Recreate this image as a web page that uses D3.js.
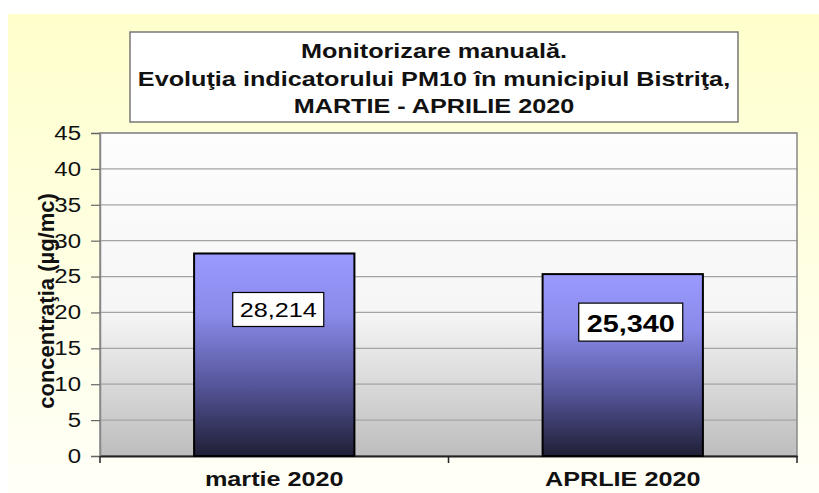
<!DOCTYPE html>
<html>
<head>
<meta charset="utf-8">
<script src="https://cdn.jsdelivr.net/npm/d3@7"></script>
<style>
  html, body { margin: 0; padding: 0; background: #ffffff; }
  svg { display: block; }
  text { font-family: "Liberation Sans", Arial, sans-serif; }
</style>
</head>
<body>
<svg id="chart" width="819" height="493"></svg>
<script>
// ---- data ----
const titleLines = ["Monitorizare manuală.", "Evoluţia indicatorului PM10 în municipiul Bistriţa,", "MARTIE - APRILIE 2020"];
const categories = ["martie 2020", "APRLIE 2020"];
const values = [28.214, 25.340];
const valueLabels = ["28,214", "25,340"];
const yTicks = [0, 5, 10, 15, 20, 25, 30, 35, 40, 45];
const yLabel = "concentraţia (µg/mc)";

// ---- styles (not data) ----
const labelStyle = [
  { bold: false, size: 21, dx: 4, dy: 39, w: 91, h: 34, base: 25 },
  { bold: true, size: 24, dx: 8, dy: 29, w: 104, h: 38, base: 29 }
];
const SX = 1.2; // horizontal stretch of the reference's text

const W = 819, H = 493;
const plot = { left: 100, right: 797, top: 133, bottom: 456 };

const svg = d3.select("#chart");
const defs = svg.append("defs");

const bgGrad = defs.append("linearGradient").attr("id", "bgGrad").attr("x1", 0).attr("y1", 0).attr("x2", 0).attr("y2", 1);
bgGrad.append("stop").attr("offset", "0").attr("stop-color", "#ffffcc");
bgGrad.append("stop").attr("offset", "1").attr("stop-color", "#fffff8");

const plotGrad = defs.append("linearGradient").attr("id", "plotGrad").attr("x1", 0).attr("y1", 0).attr("x2", 0).attr("y2", 1);
plotGrad.append("stop").attr("offset", "0").attr("stop-color", "#fdfdfd");
plotGrad.append("stop").attr("offset", "0.55").attr("stop-color", "#f6f6f6");
plotGrad.append("stop").attr("offset", "1").attr("stop-color", "#bdbdbd");

const barGrad = defs.append("linearGradient").attr("id", "barGrad").attr("x1", 0).attr("y1", 0).attr("x2", 0).attr("y2", 1);
barGrad.append("stop").attr("offset", "0").attr("stop-color", "#9a9aff");
barGrad.append("stop").attr("offset", "0.3").attr("stop-color", "#8a8aea");
barGrad.append("stop").attr("offset", "0.65").attr("stop-color", "#55559a");
barGrad.append("stop").attr("offset", "1").attr("stop-color", "#1f1f36");

// background
svg.append("rect").attr("x", 8).attr("y", 14).attr("width", W - 8).attr("height", H - 14).attr("fill", "url(#bgGrad)");

// helper to stretch text horizontally
function stretch(sel) {
  sel.each(function () {
    const len = this.getComputedTextLength();
    d3.select(this).attr("textLength", len * SX).attr("lengthAdjust", "spacingAndGlyphs");
  });
}

// scales
const y = d3.scaleLinear().domain([0, 45]).range([plot.bottom, plot.top]);
const x = d3.scaleBand().domain(categories).range([plot.left, plot.right]).paddingInner(0.54).paddingOuter(0.27);

// plot area
svg.append("rect").attr("x", plot.left).attr("y", plot.top)
  .attr("width", plot.right - plot.left).attr("height", plot.bottom - plot.top)
  .attr("fill", "url(#plotGrad)");

// gridlines
svg.append("g").selectAll("line").data(yTicks.filter(d => d > 0)).join("line")
  .attr("x1", plot.left).attr("x2", plot.right)
  .attr("y1", d => y(d)).attr("y2", d => y(d))
  .attr("stroke", "#a4a4a4").attr("stroke-width", 1.2);

// plot border
svg.append("rect").attr("x", plot.left).attr("y", plot.top)
  .attr("width", plot.right - plot.left).attr("height", plot.bottom - plot.top)
  .attr("fill", "none").attr("stroke", "#888").attr("stroke-width", 1.5);

// y axis
const yAxis = svg.append("g").attr("transform", `translate(${plot.left},0)`)
  .call(d3.axisLeft(y).tickValues(yTicks).tickSize(9).tickPadding(10).tickFormat(d3.format("d")));
yAxis.select(".domain").attr("stroke", "#888").attr("stroke-width", 1.5);
yAxis.selectAll(".tick line").attr("stroke", "#666").attr("stroke-width", 1.2);
yAxis.selectAll(".tick text").attr("font-size", 20).attr("fill", "#111")
  .attr("font-family", "Liberation Sans, Arial, sans-serif").call(stretch);

// x axis
const xAxis = svg.append("g").attr("transform", `translate(0,${plot.bottom})`)
  .call(d3.axisBottom(x).tickSize(0).tickPadding(15));
xAxis.select(".domain").attr("stroke", "#222").attr("stroke-width", 2);
xAxis.selectAll(".tick text").attr("font-size", 21).attr("font-weight", "bold").attr("fill", "#111")
  .attr("font-family", "Liberation Sans, Arial, sans-serif").attr("dy", "0.71em").call(stretch);
// category separator ticks
const sepX = [plot.left, (plot.left + plot.right) / 2, plot.right];
svg.append("g").selectAll("line").data(sepX).join("line")
  .attr("x1", d => d).attr("x2", d => d)
  .attr("y1", plot.bottom).attr("y2", plot.bottom + 7)
  .attr("stroke", "#222").attr("stroke-width", 1.5);

// bars
svg.append("g").selectAll("rect").data(values).join("rect")
  .attr("x", (d, i) => x(categories[i]))
  .attr("y", d => y(d))
  .attr("width", x.bandwidth())
  .attr("height", d => y(0) - y(d))
  .attr("fill", "url(#barGrad)")
  .attr("stroke", "#000").attr("stroke-width", 2);

// value labels
const lab = svg.append("g").selectAll("g").data(values).join("g")
  .attr("transform", (d, i) => {
    const s = labelStyle[i];
    return `translate(${x(categories[i]) + x.bandwidth() / 2 + s.dx},${y(d) + s.dy})`;
  });
lab.append("rect")
  .attr("x", (d, i) => -labelStyle[i].w / 2).attr("y", 0)
  .attr("width", (d, i) => labelStyle[i].w).attr("height", (d, i) => labelStyle[i].h)
  .attr("fill", "#fff").attr("stroke", "#000").attr("stroke-width", 1.2);
lab.append("text")
  .attr("x", 0).attr("y", (d, i) => labelStyle[i].base)
  .attr("text-anchor", "middle")
  .attr("font-size", (d, i) => labelStyle[i].size)
  .attr("font-weight", (d, i) => labelStyle[i].bold ? "bold" : "normal")
  .attr("fill", "#000")
  .text((d, i) => valueLabels[i])
  .call(stretch);

// y label
svg.append("text")
  .attr("transform", "translate(54,301) rotate(-90)")
  .attr("text-anchor", "middle")
  .attr("font-size", 22).attr("font-weight", "bold").attr("fill", "#111")
  .text(yLabel);

// title box
const tb = { x: 130, y: 32, w: 608, h: 90 };
svg.append("rect").attr("x", tb.x).attr("y", tb.y).attr("width", tb.w).attr("height", tb.h)
  .attr("fill", "#fff").attr("stroke", "#777").attr("stroke-width", 1.5);
svg.append("g").selectAll("text").data(titleLines).join("text")
  .attr("x", tb.x + tb.w / 2)
  .attr("y", (d, i) => 58 + i * 27.5)
  .attr("text-anchor", "middle")
  .attr("font-size", 21).attr("font-weight", "bold").attr("fill", "#111")
  .text(d => d)
  .call(stretch);
</script>
</body>
</html>
